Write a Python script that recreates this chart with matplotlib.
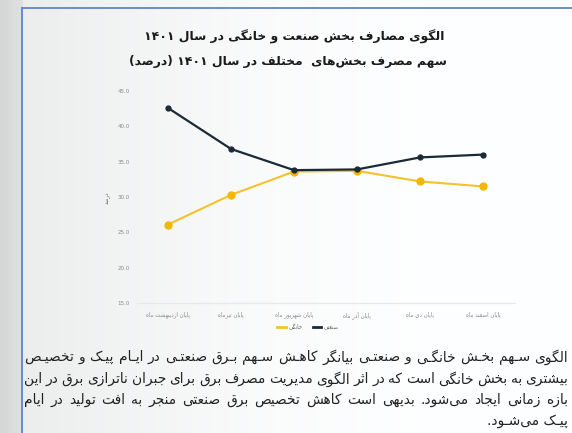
import numpy as np
import matplotlib
matplotlib.use("Agg")
import matplotlib.pyplot as plt
from matplotlib.lines import Line2D

# ---------------- data ----------------
categories = ["پایان اردیبهشت ماه", "پایان تیرماه", "پایان شهریور ماه",
              "پایان آذر ماه", "پایان دی ماه", "پایان اسفند ماه"]
industry = [42.6, 36.8, 33.8, 33.9, 35.6, 36.0]
household = [26.1, 30.3, 33.6, 33.7, 32.2, 31.5]
series_household = "خانگی"
series_industry = "صنعتی"
y_ticks = [15, 20, 25, 30, 35, 40, 45]
y_label = "درصد"
title_line1 = "الگوی مصارف بخش صنعت و خانگی در سال ۱۴۰۱"
title_line2 = "سهم مصرف بخش‌های  مختلف در سال ۱۴۰۱ (درصد)"
para_lines = [
    "الگوی سـهم بخـش خانگـی و صنعتـی بیانگر کاهـش سـهم بـرق صنعتـی در ایـام پیـک و تخصیـص",
    "بیشتری به بخش خانگی است که در اثر الگوی مدیریت مصرف برق برای جبران ناترازی برق در این",
    "بازه زمانی ایجاد می‌شود. بدیهی است کاهش تخصیص برق صنعتی منجر به افت تولید در ایام",
    "پیـک می‌شـود.",
]

# ---------------- minimal Persian shaping ----------------
_F = {
    'ا': (0xFE8D, 0xFE8E, None, None), 'آ': (0xFE81, 0xFE82, None, None),
    'أ': (0xFE83, 0xFE84, None, None), 'إ': (0xFE87, 0xFE88, None, None),
    'ؤ': (0xFE85, 0xFE86, None, None),
    'د': (0xFEA9, 0xFEAA, None, None), 'ذ': (0xFEAB, 0xFEAC, None, None),
    'ر': (0xFEAD, 0xFEAE, None, None), 'ز': (0xFEAF, 0xFEB0, None, None),
    'ژ': (0xFB8A, 0xFB8B, None, None), 'و': (0xFEED, 0xFEEE, None, None),
    'ب': (0xFE8F, 0xFE90, 0xFE91, 0xFE92), 'پ': (0xFB56, 0xFB57, 0xFB58, 0xFB59),
    'ت': (0xFE95, 0xFE96, 0xFE97, 0xFE98), 'ث': (0xFE99, 0xFE9A, 0xFE9B, 0xFE9C),
    'ج': (0xFE9D, 0xFE9E, 0xFE9F, 0xFEA0), 'چ': (0xFB7A, 0xFB7B, 0xFB7C, 0xFB7D),
    'ح': (0xFEA1, 0xFEA2, 0xFEA3, 0xFEA4), 'خ': (0xFEA5, 0xFEA6, 0xFEA7, 0xFEA8),
    'س': (0xFEB1, 0xFEB2, 0xFEB3, 0xFEB4), 'ش': (0xFEB5, 0xFEB6, 0xFEB7, 0xFEB8),
    'ص': (0xFEB9, 0xFEBA, 0xFEBB, 0xFEBC), 'ض': (0xFEBD, 0xFEBE, 0xFEBF, 0xFEC0),
    'ط': (0xFEC1, 0xFEC2, 0xFEC3, 0xFEC4), 'ظ': (0xFEC5, 0xFEC6, 0xFEC7, 0xFEC8),
    'ع': (0xFEC9, 0xFECA, 0xFECB, 0xFECC), 'غ': (0xFECD, 0xFECE, 0xFECF, 0xFED0),
    'ف': (0xFED1, 0xFED2, 0xFED3, 0xFED4), 'ق': (0xFED5, 0xFED6, 0xFED7, 0xFED8),
    'ک': (0xFB8E, 0xFB8F, 0xFB90, 0xFB91), 'گ': (0xFB92, 0xFB93, 0xFB94, 0xFB95),
    'ل': (0xFEDD, 0xFEDE, 0xFEDF, 0xFEE0), 'م': (0xFEE1, 0xFEE2, 0xFEE3, 0xFEE4),
    'ن': (0xFEE5, 0xFEE6, 0xFEE7, 0xFEE8), 'ه': (0xFEE9, 0xFEEA, 0xFEEB, 0xFEEC),
    'ی': (0xFBFC, 0xFBFD, 0xFBFE, 0xFBFF), 'ي': (0xFEF1, 0xFEF2, 0xFEF3, 0xFEF4),
    'ئ': (0xFE89, 0xFE8A, 0xFE8B, 0xFE8C),
    'ـ': (0x0640, 0x0640, 0x0640, 0x0640),
}
_LAMALEF = {'ا': (0xFEFB, 0xFEFC), 'آ': (0xFEF5, 0xFEF6),
            'أ': (0xFEF7, 0xFEF8), 'إ': (0xFEF9, 0xFEFA)}
_MIRROR = {'(': ')', ')': '(', '[': ']', ']': '[', '«': '»', '»': '«'}


def _jl(c):  # joins to the following letter
    return c in _F and _F[c][2] is not None


def _jr(c):  # joins to the preceding letter
    return c in _F


def _shape(s):
    out = []
    i, n = 0, len(s)
    while i < n:
        c = s[i]
        prev = s[i - 1] if i > 0 else ''
        if c == '\u200c':
            i += 1
            continue
        if c == 'ل' and i + 1 < n and s[i + 1] in _LAMALEF:
            iso, fin = _LAMALEF[s[i + 1]]
            out.append(chr(fin if _jl(prev) else iso))
            i += 2
            continue
        if c not in _F:
            out.append(c)
            i += 1
            continue
        nxt = s[i + 1] if i + 1 < n else ''
        cp = _jl(prev) and _jr(c)
        cn = _jl(c) and _jr(nxt)
        iso, fin, ini, med = _F[c]
        if cp and cn:
            code = med
        elif cp:
            code = fin
        elif cn:
            code = ini
        else:
            code = iso
        out.append(chr(code))
        i += 1
    return ''.join(out)


def _is_ltr(ch):
    return ch.isdigit() or ('a' <= ch.lower() <= 'z')


def fa(s):
    sh = _shape(s)
    runs = []
    for ch in sh:
        t = _is_ltr(ch)
        if runs and runs[-1][0] == t:
            runs[-1][1].append(ch)
        else:
            runs.append([t, [ch]])
    res = []
    for t, chars in reversed(runs):
        if t:
            res.append(''.join(chars))
        else:
            res.append(''.join(_MIRROR.get(c, c) for c in reversed(chars)))
    return ''.join(res)


# ---------------- figure ----------------
W, H = 572, 433
fig = plt.figure(figsize=(W / 100, H / 100), dpi=100)
FONT = ['DejaVu Sans']


def fx(px):
    return px / W


def fy(py):
    return 1 - py / H


# page background gradient
bg = fig.add_axes([0, 0, 1, 1], zorder=-10)
xs = np.arange(W)
lv = np.interp(xs, [0, 22, 23, 120, 260, 420, 572], [0.84, 0.885, 0.93, 0.955, 0.985, 1.0, 1.0])
img = np.repeat(lv[None, :], 4, axis=0)
rgb = np.stack([img * 0.995, img * 0.998, img], axis=-1)
bg.imshow(rgb, aspect='auto', extent=[0, 1, 0, 1])
bg.set_xlim(0, 1)
bg.set_ylim(0, 1)
bg.axis('off')

# blue frame
fig.add_artist(Line2D([fx(22), fx(22)], [fy(8), 0], color='#5f86c6', lw=1.3))
fig.add_artist(Line2D([fx(22), 1], [fy(8), fy(8)], color='#5f86c6', lw=1.3))

# titles
fig.text(fx(294), fy(37), fa(title_line1), ha='center', va='center',
         fontsize=8.9, fontweight='bold', color='#1a1a1a', family=FONT)
fig.text(fx(288), fy(61), fa(title_line2), ha='center', va='center',
         fontsize=8.9, fontweight='bold', color='#1a1a1a', family=FONT)

# chart
ax = fig.add_axes([fx(136.5), fy(303), fx(514.5) - fx(136.5), fy(91) - fy(303)])
ax.set_facecolor('none')
x = np.arange(len(categories))
ax.plot(x, household, color='#f3c22c', lw=1.5, marker='o', markersize=5,
        markerfacecolor='#f2b705', markeredgecolor='#f2b705', zorder=3,
        label=fa(series_household))
ax.plot(x, industry, color='#1b2a38', lw=1.6, marker='o', markersize=3.5,
        markerfacecolor='#1b2a38', markeredgecolor='#1b2a38', zorder=4,
        label=fa(series_industry))
ax.set_xlim(-0.5, len(categories) - 0.5)
ax.set_ylim(min(y_ticks), max(y_ticks))
ax.set_yticks(y_ticks)
ax.set_yticklabels([f"{v:.1f}" for v in y_ticks])
ax.set_xticks(x)
ax.set_xticklabels([fa(c) for c in categories], family=FONT)
for s in ['top', 'right', 'left']:
    ax.spines[s].set_visible(False)
ax.spines['bottom'].set_color('#e6e8ec')
ax.spines['bottom'].set_linewidth(0.9)
ax.tick_params(axis='both', length=0, labelsize=4, labelcolor='#8a8a8a')
ax.tick_params(axis='y', pad=5)
ax.tick_params(axis='x', pad=6)

fig.text(fx(108), fy(198), fa(y_label), rotation=90, ha='center', va='center',
         fontsize=4, color='#666666', family=FONT)

leg = fig.legend(handles=ax.get_lines(), loc='center',
                 bbox_to_anchor=(fx(308), fy(327)), ncol=2, frameon=False,
                 handlelength=1.6, handletextpad=0.4,
                 columnspacing=1.8, prop={'family': FONT, 'size': 4})
for h in leg.legend_handles:
    h.set_marker('')
    h.set_linewidth(2)
for t in leg.get_texts():
    t.set_color('#666666')

# paragraph below the chart (justified between x=24 and x=568)
renderer = fig.canvas.get_renderer()
ys = [357, 379, 400, 421]
LEFT, RIGHT = 24, 568
PSIZE = 9.9
for i, (line, yy) in enumerate(zip(para_lines, ys)):
    vis = fa(line)
    if i == len(para_lines) - 1:
        fig.text(fx(RIGHT), fy(yy), vis, ha='right', va='center',
                 fontsize=PSIZE, color='#222222', family=FONT)
        continue
    words = vis.split(' ')
    objs = [fig.text(0, fy(yy), w, ha='left', va='center', fontsize=PSIZE,
                     color='#222222', family=FONT) for w in words]
    widths = [o.get_window_extent(renderer).width for o in objs]
    gap = (RIGHT - LEFT - sum(widths)) / max(len(words) - 1, 1)
    pos = LEFT
    for o, w in zip(objs, widths):
        o.set_x(fx(pos))
        pos += w + gap

fig.savefig('out.png', dpi=100)
